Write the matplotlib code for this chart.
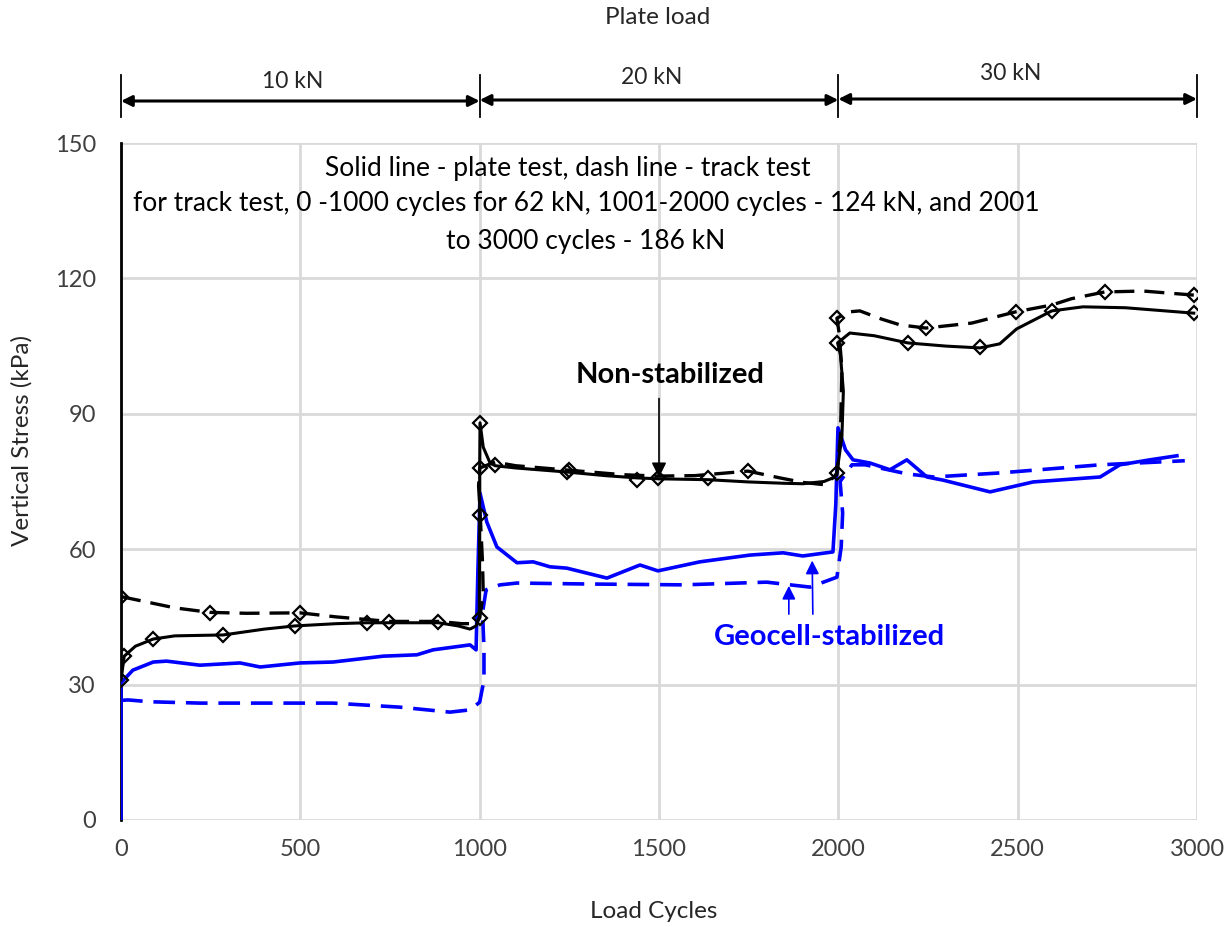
import matplotlib
matplotlib.use("Agg")
import matplotlib.pyplot as plt
import matplotlib.transforms as mtransforms

plt.rcParams['font.family'] = ['Lato', 'DejaVu Sans']

# ---------------- data ----------------
# Plate test, non-stabilized (solid black)
plate_ns_x = [0, 9, 40, 90, 150, 285, 400, 485, 600, 685, 748, 885, 940, 973, 990, 999,
              1000, 1000, 1001, 1010, 1029, 1043, 1100, 1243, 1350, 1438, 1497, 1637, 1750,
              1850, 1901, 1960, 1985, 1996, 2010, 2014, 2006, 1998, 2032, 2100, 2194, 2300,
              2395, 2450, 2497, 2595, 2682, 2800, 2991]
plate_ns_y = [31, 36.3, 38.5, 40.1, 40.8, 41.0, 42.3, 43.0, 43.5, 43.7, 43.7, 43.7, 43.0, 42.3,
              43.0, 44.8, 67.6, 78.0, 88.0, 82.6, 79.1, 78.5, 78.0, 77.1, 76.3, 75.8, 75.6, 75.4,
              74.9, 74.6, 74.5, 75.0, 75.8, 76.9, 85, 95, 103, 105.7, 107.9, 107.3, 105.7, 105.0,
              104.6, 105.5, 108.8, 112.8, 113.7, 113.5, 112.3]
plate_ns_mx = [0, 9, 90, 285, 485, 685, 1000, 1000, 1000, 1001, 1043, 1243, 1438, 1637, 1996,
               1996, 2194, 2395, 2595, 2991]
plate_ns_my = [31, 36.3, 40.1, 41.0, 43.0, 43.7, 44.8, 67.6, 78.0, 88.0, 78.7, 77.1, 75.3,
               75.8, 76.9, 105.7, 105.7, 104.8, 112.8, 112.3]

# Track test, non-stabilized (dashed black)
track_ns_x = [0, 60, 150, 248, 350, 499, 600, 748, 885, 950, 985, 1000, 1010, 1008, 1000, 997,
              1000, 1043, 1100, 1250, 1400, 1497, 1600, 1748, 1837, 1901, 1960, 1996, 2006,
              2010, 2002, 1996, 2032, 2060, 2120, 2172, 2244, 2372, 2495, 2595, 2650, 2743,
              2850, 2991]
track_ns_y = [49.5, 48.5, 47.0, 46.0, 45.8, 45.9, 45.0, 44.0, 44.0, 43.5, 43.5, 44.8, 50, 57,
              70, 74, 78.0, 79.3, 78.5, 77.5, 76.5, 76.2, 76.3, 77.3, 75.8, 74.8, 74.3, 76.5, 85,
              100, 108, 111.2, 112.6, 112.8, 111.0, 109.7, 109.0, 110.1, 112.6, 114.1, 115.5,
              117.0, 117.2, 116.3]
track_ns_mx = [0, 248, 499, 748, 885, 1250, 1497, 1748, 1996, 2244, 2495, 2743, 2991]
track_ns_my = [49.5, 45.9, 45.9, 43.8, 43.8, 77.5, 75.8, 77.3, 111.2, 109.0, 112.6, 117.0, 116.3]

# Plate test, geocell-stabilized (solid blue)
plate_gc_x = [0, 0, 33, 90, 127, 220, 332, 388, 499, 591, 731, 825, 870, 973, 990, 995, 1001,
              1020, 1048, 1104, 1149, 1196, 1243, 1355, 1447, 1497, 1614, 1754, 1846, 1901,
              1985, 1993, 1999, 2020, 2041, 2088, 2144, 2191, 2247, 2292, 2423, 2543, 2730,
              2785, 2869, 2944]
plate_gc_y = [0, 30.4, 33.2, 35.0, 35.2, 34.3, 34.8, 33.9, 34.8, 35.0, 36.3, 36.6, 37.7, 38.8,
              37.7, 55, 72.4, 66, 60.5, 57.0, 57.2, 56.1, 55.8, 53.6, 56.5, 55.2, 57.2, 58.7,
              59.2, 58.5, 59.4, 70, 86.9, 82, 79.8, 79.1, 77.6, 79.8, 76.0, 75.3, 72.7, 74.9,
              76.0, 78.7, 79.8, 80.7]

# Track test, geocell-stabilized (dashed blue)
track_gc_x = [0, 20, 80, 220, 591, 778, 917, 973, 1000, 1012, 1012, 1008, 1018, 1029, 1057,
              1104, 1288, 1567, 1800, 1921, 1996, 2008, 2012, 2005, 2038, 2075, 2191, 2265,
              2451, 2730, 2966]
track_gc_y = [26.5, 26.6, 26.2, 25.9, 25.9, 25.0, 23.9, 24.4, 26.1, 31, 38, 46, 51, 51.4, 52.1,
              52.5, 52.3, 52.1, 52.7, 51.6, 53.8, 60.5, 68, 75, 78.7, 78.7, 76.7, 76.0, 76.9,
              78.7, 79.6]

x_ticks = [0, 500, 1000, 1500, 2000, 2500, 3000]
y_ticks = [0, 30, 60, 90, 120, 150]
load_bounds = [0, 1000, 2000, 3000]
load_labels = ["10 kN", "20 kN", "30 kN"]

# ---------------- figure ----------------
W, H = 1231, 927
fig = plt.figure(figsize=(W / 100, H / 100), dpi=100)
ax = fig.add_axes([121 / W, 1 - 820 / H, (1197 - 121) / W, (820 - 143) / H])

grid_c = '#d9d9d9'
ax.set_xlim(0, 3000)
ax.set_ylim(0, 150)
ax.set_xticks(x_ticks)
ax.set_yticks(y_ticks)
ax.grid(True, color=grid_c, lw=2, zorder=0)
ax.set_axisbelow(True)
for s in ['top', 'right', 'bottom']:
    ax.spines[s].set_visible(False)
ax.spines['left'].set_color('black')
ax.spines['left'].set_linewidth(2)
ax.tick_params(length=0, labelsize=17, labelcolor='#404040')
ax.tick_params(axis='y', pad=18)
ax.tick_params(axis='x', pad=14)

blue = '#0000ff'
dash = (0, (6, 3))
ax.plot(plate_gc_x, plate_gc_y, color=blue, lw=2.6, zorder=3)
ax.plot(track_gc_x, track_gc_y, color=blue, lw=2.6, ls=dash, zorder=3)
ax.plot(track_ns_x, track_ns_y, color='black', lw=2.4, ls=dash, zorder=4)
ax.plot(plate_ns_x, plate_ns_y, color='black', lw=2.2, zorder=4)
ax.plot(plate_ns_mx, plate_ns_my, ls='none', marker='D', ms=7, mfc='none', mec='black', mew=1.6, zorder=5)
ax.plot(track_ns_mx, track_ns_my, ls='none', marker='D', ms=7, mfc='none', mec='black', mew=1.6, zorder=5)

ax.set_xlabel('Load Cycles', fontsize=17.5, color='#262626')
ax.xaxis.set_label_coords((654 - 121) / 1076, (820 - 912) / 677)
ax.xaxis.label.set_va('center')
ax.set_ylabel('Vertical Stress (kPa)', fontsize=17.5, color='#262626')
ax.yaxis.set_label_coords((22 - 121) / 1076, (820 - 440) / 677)
ax.yaxis.label.set_va('center')

# notes
note_kw = dict(fontsize=19, color='black', ha='center', va='center', transform=fig.transFigure)
fig.text(568 / W, 1 - 168 / H, 'Solid line - plate test, dash line - track test', **note_kw)
fig.text(586 / W, 1 - 204 / H,
         'for track test, 0 -1000 cycles for 62 kN, 1001-2000 cycles - 124 kN, and 2001', **note_kw)
fig.text(586 / W, 1 - 241 / H, 'to 3000 cycles - 186 kN', **note_kw)

# Non-stabilized annotation
ax.text(1530, 98.5, 'Non-stabilized', fontsize=21, fontweight='bold', ha='center', va='center', color='black')
ax.annotate('', xy=(1500, 75.3), xytext=(1500, 94),
            arrowprops=dict(arrowstyle='-|>', color='black', lw=1.2, mutation_scale=22))
# Geocell annotation
ax.text(1975, 40.5, 'Geocell-stabilized', fontsize=21, fontweight='bold', ha='center', va='center', color=blue)
ax.annotate('', xy=(1862, 52.5), xytext=(1862, 45),
            arrowprops=dict(arrowstyle='-|>', color=blue, lw=1.2, mutation_scale=20))
ax.annotate('', xy=(1927, 58.1), xytext=(1929, 45),
            arrowprops=dict(arrowstyle='-|>', color=blue, lw=1.2, mutation_scale=20))

# Plate load dimension arrows above the axes
trans = mtransforms.blended_transform_factory(ax.transData, fig.transFigure)
fig.text(658 / W, 1 - 18 / H, 'Plate load', fontsize=17.5, color='#262626', ha='center', va='center')
for xb in load_bounds:
    ax.plot([xb, xb], [1 - 75 / H, 1 - 117 / H], color='black', lw=1.3, transform=trans, clip_on=False)
ypos = [101, 100, 99]
label_y = [82, 78, 73]
for i, lab in enumerate(load_labels):
    x0, x1 = load_bounds[i], load_bounds[i + 1]
    ax.annotate('', xy=(x1, 1 - ypos[i] / H), xytext=(x0, 1 - ypos[i] / H),
                xycoords=trans, textcoords=trans,
                arrowprops=dict(arrowstyle='<|-|>', color='black', lw=2.2, mutation_scale=16,
                                shrinkA=0, shrinkB=0))
    ax.text((x0 + x1) / 2 - 20, 1 - label_y[i] / H, lab, transform=trans, fontsize=16.5,
            color='#262626', ha='center', va='center')

fig.savefig('out.png', dpi=100)
